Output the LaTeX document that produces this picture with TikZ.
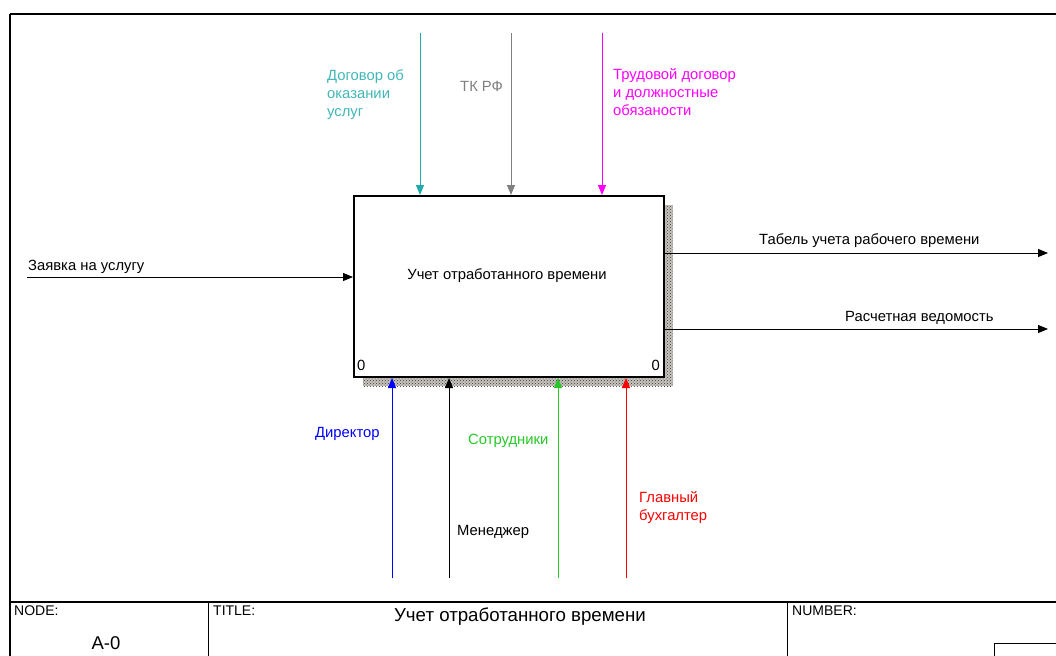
\documentclass[tikz,border=0pt]{standalone}
\usepackage{fontspec}
\setmainfont{Liberation Sans}
\usetikzlibrary{arrows.meta,patterns}
\definecolor{ctrlteal}{RGB}{32,170,170}
\definecolor{ctrlgray}{RGB}{128,128,128}
\definecolor{ctrlmag}{RGB}{255,0,255}
\definecolor{mechblue}{RGB}{0,0,255}
\definecolor{mechgreen}{RGB}{40,200,40}
\definecolor{mechred}{RGB}{255,0,0}
\definecolor{shadowbase}{RGB}{200,196,190}
\tikzset{
  flow/.style={line width=1pt,-{Triangle[length=10pt,width=8pt]}},
  lbl/.style={font=\fontsize{14.8}{18.2}\selectfont, inner sep=0pt, align=left},
  ttl/.style={font=\fontsize{14}{16}\selectfont, inner sep=0pt},
  activity/.style={draw, line width=2pt, fill=white, minimum width=310pt, minimum height=181pt, inner sep=0pt},
  hatchshadow/.style={fill=shadowbase, postaction={pattern=crosshatch dots, pattern color=black!80}}
}
\begin{document}
\begin{tikzpicture}[x=1pt,y=-1pt]
\useasboundingbox (0,0) rectangle (1056,655);
\fill[white] (0,0) rectangle (1056,655);

% sheet frame and title block
\begin{scope}
\clip (0,0) rectangle (1056,655);
\draw[line width=1.5pt] (10,14) -- (1070,14);
\draw[line width=1.5pt] (10,14) -- (10,670);
\draw[line width=1.5pt] (10,602) -- (1070,602);
\draw[line width=1pt] (208,602) -- (208,670);
\draw[line width=1pt] (787,602) -- (787,670);
\draw[line width=0.8pt] (994,670) -- (994,643) -- (1070,643);
\end{scope}
\node[ttl, anchor=west] (nodelbl) at (14,611) {NODE:};
\node[font=\fontsize{18.5}{20}\selectfont, inner sep=0pt] (nodeid) at (106,643) {A-0};
\node[ttl, anchor=west] (titlelbl) at (213,611) {TITLE:};
\node[font=\fontsize{18.7}{20}\selectfont, inner sep=0pt] (titletext) at (520,617) {Учет отработанного времени};
\node[ttl, anchor=west] (numlbl) at (792,611) {NUMBER:};

% activity shadow
\path[hatchshadow] (663,205) rectangle (673,386);
\path[hatchshadow] (363,376) rectangle (673,386);

% activity box
\node[activity, anchor=north west] (A0) at (353,195) {};
\node[lbl] (A0text) at (507,276) {Учет отработанного времени};
\node[lbl, anchor=west] (numL) at (357,365) {0};
\node[lbl, anchor=east] (numR) at (660,365) {0};

% input
\coordinate (inStart) at (27,277);
\draw[flow] (inStart) -- (A0.west |- inStart);
\node[lbl, anchor=west] (inLbl) at (28,267) {Заявка на услугу};

% controls
\coordinate (c1) at (420,33);
\coordinate (c2) at (511,33);
\coordinate (c3) at (602,33);
\draw[flow, draw=ctrlteal, fill=ctrlteal] (c1) -- (c1 |- A0.north);
\draw[flow, draw=ctrlgray, fill=ctrlgray] (c2) -- (c2 |- A0.north);
\draw[flow, draw=ctrlmag, fill=ctrlmag] (c3) -- (c3 |- A0.north);
\node[lbl, anchor=north west, text=ctrlteal!85] (c1Lbl) at (327,69) {Договор об\\оказании\\услуг};
\node[lbl, anchor=west, text=ctrlgray] (c2Lbl) at (460,86) {ТК РФ};
\node[lbl, anchor=north west, text=ctrlmag] (c3Lbl) at (613,68) {Трудовой договор\\и должностные\\обязаности};

% outputs
\coordinate (o1) at (1048,253);
\coordinate (o2) at (1048,329);
\draw[flow] (A0.east |- o1) -- (o1);
\draw[flow] (A0.east |- o2) -- (o2);
\node[lbl, anchor=west] (o1Lbl) at (759,241) {Табель учета рабочего времени};
\node[lbl, anchor=west] (o2Lbl) at (845,318) {Расчетная ведомость};

% mechanisms
\coordinate (m1) at (392,578);
\coordinate (m2) at (449,578);
\coordinate (m3) at (558,578);
\coordinate (m4) at (626,578);
\draw[flow, draw=mechblue, fill=mechblue] (m1) -- (m1 |- A0.south);
\draw[flow, draw=black, fill=black] (m2) -- (m2 |- A0.south);
\draw[flow, draw=mechgreen, fill=mechgreen] (m3) -- (m3 |- A0.south);
\draw[flow, draw=mechred, fill=mechred] (m4) -- (m4 |- A0.south);
\node[lbl, anchor=west, text=mechblue] (m1Lbl) at (315,434) {Директор};
\node[lbl, anchor=west] (m2Lbl) at (457,532) {Менеджер};
\node[lbl, anchor=west, text=mechgreen] (m3Lbl) at (468,441) {Сотрудники};
\node[lbl, anchor=north west, text=mechred] (m4Lbl) at (639,491) {Главный\\бухгалтер};
\end{tikzpicture}
\end{document}
